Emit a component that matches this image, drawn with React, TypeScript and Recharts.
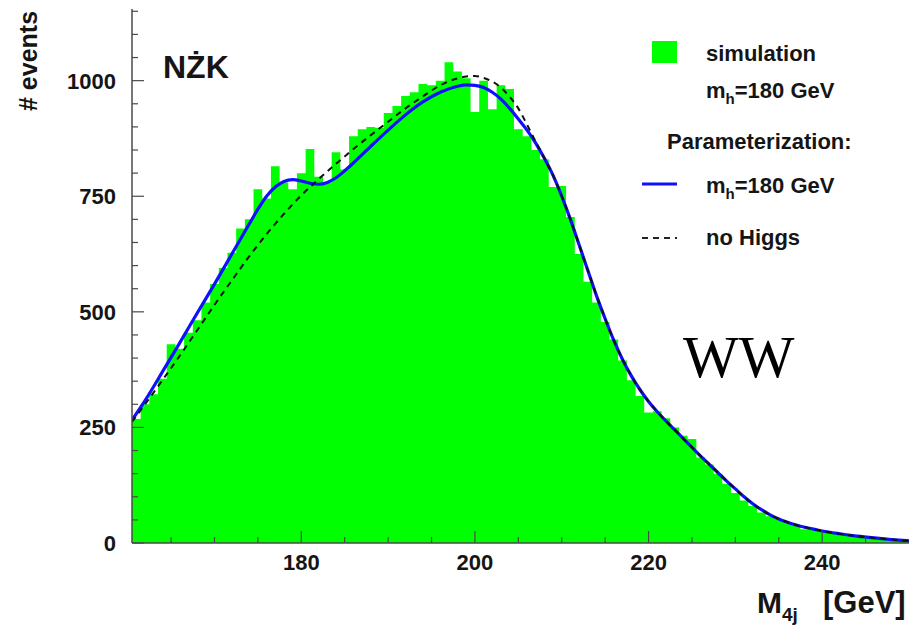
import React from 'react';
import { ComposedChart, Area, Line, XAxis, YAxis } from 'recharts';

// Histogram: left bin edges (GeV) and counts per bin
const histEdges = [
  160.5, 161.5, 162.5, 163.5, 164.5, 165.5, 166.5, 167.5, 168.5, 169.5,
  170.5, 171.5, 172.5, 173.5, 174.5, 175.5, 176.5, 177.5, 178.5, 179.5,
  180.5, 181.5, 182.5, 183.5, 184.5, 185.5, 186.5, 187.5, 188.5, 189.5,
  190.5, 191.5, 192.5, 193.5, 194.5, 195.5, 196.5, 197.5, 198.5, 199.5,
  200.5, 201.5, 202.5, 203.5, 204.5, 205.5, 206.5, 207.5, 208.5, 209.5,
  210.5, 211.5, 212.5, 213.5, 214.5, 215.5, 216.5, 217.5, 218.5, 219.5,
  220.5, 221.5, 222.5, 223.5, 224.5, 225.5, 226.5, 227.5, 228.5, 229.5,
  230.5, 231.5, 232.5, 233.5, 234.5, 235.5, 236.5, 237.5, 238.5, 239.5,
  240.5, 241.5, 242.5, 243.5, 244.5, 245.5, 246.5, 247.5, 248.5, 249.5,
];
const histCounts = [
  268, 300, 322, 355, 430, 420, 455, 482, 520, 560,
  595, 628, 680, 700, 765, 745, 815, 780, 765, 800,
  852, 792, 780, 845, 808, 880, 895, 900, 898, 930,
  945, 967, 975, 993, 990, 1000, 1040, 1020, 1005, 932,
  1000, 938, 990, 982, 895, 880, 850, 830, 770, 772,
  705, 625, 565, 520, 478, 440, 395, 352, 318, 282,
  285, 270, 250, 232, 225, 185, 170, 150, 128, 108,
  92, 80, 66, 58, 52, 45, 38, 30, 29, 26,
  22, 20, 17, 14, 12, 10, 9, 7, 6, 4,
];
const histEnd = 250;

// Parameterization m_h = 180 GeV (blue)
const higgsX = [
  160.5, 162, 164, 166, 168, 170, 172, 174, 175, 176, 177, 178, 179, 180, 181, 182, 183, 184, 185, 186,
  188, 190, 192, 194, 196, 198, 199, 200, 201, 202, 203, 204, 205, 206, 207, 208, 209, 210, 211, 212,
  213, 214, 215, 216, 217, 218, 219, 220, 221, 222, 223, 224, 225, 226, 227, 228, 229, 230, 231, 232,
  233, 234, 235, 236, 237, 238, 239, 240, 242, 244, 246, 248, 250,
];
const higgsY = [
  266, 308, 370, 433, 497, 560, 625, 690, 722, 750, 770, 782, 786, 783, 778, 776, 780, 790, 805, 822,
  858, 893, 926, 954, 975, 988, 991, 990, 985, 975, 960, 940, 917, 893, 865, 832, 795, 750, 700, 645,
  590, 535, 485, 438, 397, 362, 332, 306, 284, 264, 245, 226, 207, 188, 170, 152, 134, 117, 100, 85,
  72, 61, 52, 45, 39, 34, 30, 26, 20, 15, 11, 7.5, 4.5,
];

// Parameterization: no Higgs (dashed)
const noHiggsX = [
  160.5, 162, 164, 166, 168, 170, 172, 174, 176, 178, 180, 182, 184, 186, 188, 190, 192, 194, 196, 198,
  199, 200, 201, 202, 203, 204, 205, 206, 207, 208, 209, 210, 211, 212, 213, 214, 215, 216, 217, 218,
  219, 220, 221, 222, 223, 224, 225, 226, 227, 228, 229, 230, 231, 232, 233, 234, 235, 236, 237, 238,
  239, 240, 242, 244, 246, 248, 250,
];
const noHiggsY = [
  262, 300, 352, 405, 460, 515, 568, 620, 668, 712, 752, 787, 820, 852, 882, 911, 940, 966, 990, 1005,
  1009, 1010, 1006, 998, 985, 965, 940, 905, 868, 832, 795, 750, 700, 645, 590, 535, 485, 438, 397, 362,
  332, 306, 284, 264, 245, 226, 207, 188, 170, 152, 134, 117, 100, 85, 72, 61, 52, 45, 39, 34,
  30, 26, 20, 15, 11, 7.5, 4.5,
];

const xTicks = [165, 170, 175, 180, 185, 190, 195, 200, 205, 210, 215, 220, 225, 230, 235, 240, 245];
const xMajor = [180, 200, 220, 240];
const yTicks = [0, 50, 100, 150, 200, 250, 300, 350, 400, 450, 500, 550, 600, 650, 700, 750, 800, 850, 900, 950, 1000, 1050, 1100, 1150];
const yMajor = [0, 250, 500, 750, 1000];

const xDomain = [160.5, 250];
const yDomain = [0, 1155];

// build merged table
const rowMap = new Map<number, any>();
const getRow = (x: number) => {
  if (!rowMap.has(x)) rowMap.set(x, { x });
  return rowMap.get(x);
};
histEdges.forEach((e, i) => { getRow(e).hist = histCounts[i]; });
getRow(histEnd).hist = histCounts[histCounts.length - 1];
higgsX.forEach((x, i) => { getRow(x).higgs = higgsY[i]; });
noHiggsX.forEach((x, i) => { getRow(x).noHiggs = noHiggsY[i]; });
const data = Array.from(rowMap.values()).sort((a, b) => a.x - b.x);

const FONT = '"Liberation Sans", Arial, Helvetica, sans-serif';
const AXIS = '#4a4a4a';
const TXT = '#151515';

const XTick = (props: any) => {
  const { x, y, payload } = props;
  const v = payload.value;
  const major = xMajor.includes(v);
  return (
    <g>
      <line x1={x} x2={x} y1={y} y2={y - (major ? 12 : 6)} stroke={AXIS} strokeWidth={1.2} />
      {major && (
        <text x={x} y={y + 27} textAnchor="middle" fontFamily={FONT} fontWeight="bold" fontSize={22} fill={TXT}>
          {v}
        </text>
      )}
    </g>
  );
};

const YTick = (props: any) => {
  const { x, y, payload } = props;
  const v = payload.value;
  const major = yMajor.includes(v);
  return (
    <g>
      <line x1={x} x2={x + (major ? 12 : 6)} y1={y} y2={y} stroke={AXIS} strokeWidth={1.2} />
      {major && (
        <text x={x - 16} y={y + 8} textAnchor="end" fontFamily={FONT} fontWeight="bold" fontSize={22} fill={TXT}>
          {v}
        </text>
      )}
    </g>
  );
};

export default function App() {
  return (
    <div style={{ position: 'absolute', left: 0, top: 0, width: 911, height: 628, background: '#fff' }}>
      <ComposedChart width={911} height={628} data={data} margin={{ top: 9, right: 2, left: 0, bottom: 0 }}>
        <XAxis
          dataKey="x"
          type="number"
          domain={xDomain}
          allowDataOverflow
          ticks={xTicks}
          interval={0}
          tick={<XTick />}
          tickLine={false}
          tickSize={0}
          tickMargin={0}
          height={85}
          axisLine={{ stroke: AXIS, strokeWidth: 1.5 }}
        />
        <XAxis
          xAxisId="top"
          orientation="top"
          dataKey="x"
          type="number"
          domain={xDomain}
          allowDataOverflow
          tick={false}
          tickLine={false}
          height={0}
          axisLine={{ stroke: AXIS, strokeWidth: 1.5 }}
        />
        <YAxis
          type="number"
          domain={yDomain}
          allowDataOverflow
          ticks={yTicks}
          interval={0}
          tick={<YTick />}
          tickLine={false}
          tickSize={0}
          tickMargin={0}
          width={132}
          axisLine={{ stroke: AXIS, strokeWidth: 1.5 }}
        />
        <YAxis
          yAxisId="right"
          orientation="right"
          type="number"
          domain={yDomain}
          allowDataOverflow
          tick={false}
          tickLine={false}
          width={0}
          axisLine={{ stroke: AXIS, strokeWidth: 1.5 }}
        />
        <Area
          dataKey="hist"
          type="stepAfter"
          connectNulls
          stroke="none"
          fill="#00ff00"
          fillOpacity={1}
          baseValue={0}
          isAnimationActive={false}
          dot={false}
          activeDot={false}
        />
        <Line
          dataKey="higgs"
          type="monotone"
          connectNulls
          stroke="#1010ff"
          strokeWidth={3.2}
          dot={false}
          activeDot={false}
          isAnimationActive={false}
        />
        <Line
          dataKey="noHiggs"
          type="monotone"
          connectNulls
          stroke="#111"
          strokeWidth={2}
          strokeDasharray="6 5"
          dot={false}
          activeDot={false}
          isAnimationActive={false}
        />
      </ComposedChart>
      <svg width={911} height={628} style={{ position: 'absolute', left: 0, top: 0, pointerEvents: 'none' }}>
        <text x={163} y={78} fontFamily={FONT} fontWeight="bold" fontSize={32} fill={TXT}>NŻK</text>
        <text x={683} y={377} fontFamily='"Liberation Serif", "Times New Roman", serif' fontSize={59} fill="#000">WW</text>
        <text
          x={37}
          y={61}
          transform="rotate(-90 37 61)"
          textAnchor="middle"
          fontFamily={FONT}
          fontWeight="bold"
          fontSize={25}
          fill={TXT}
        >
          # events
        </text>
        <text x={757} y={613} fontFamily={FONT} fontWeight="bold" fontSize={30} fill={TXT}>
          M<tspan fontSize={19} dy={8}>4j</tspan>
        </text>
        <text x={823} y={613} fontFamily={FONT} fontWeight="bold" fontSize={31} fill={TXT}>[GeV]</text>

        {/* legend */}
        <rect x={652} y={41} width={25} height={22} fill="#00ff00" />
        <text x={706} y={61} fontFamily={FONT} fontWeight="bold" fontSize={22} fill={TXT}>simulation</text>
        <text x={706} y={98} fontFamily={FONT} fontWeight="bold" fontSize={22} fill={TXT}>
          m<tspan fontSize={15} dy={6}>h</tspan><tspan dy={-6}>=180 GeV</tspan>
        </text>
        <text x={667} y={149} fontFamily={FONT} fontWeight="bold" fontSize={22} fill={TXT}>Parameterization:</text>
        <line x1={642} x2={677} y1={184} y2={184} stroke="#1010ff" strokeWidth={3.2} />
        <text x={706} y={193} fontFamily={FONT} fontWeight="bold" fontSize={22} fill={TXT}>
          m<tspan fontSize={15} dy={6}>h</tspan><tspan dy={-6}>=180 GeV</tspan>
        </text>
        <line x1={642} x2={677} y1={238} y2={238} stroke="#222" strokeWidth={2} strokeDasharray="6 5" />
        <text x={706} y={245} fontFamily={FONT} fontWeight="bold" fontSize={22} fill={TXT}>no Higgs</text>
      </svg>
    </div>
  );
}
